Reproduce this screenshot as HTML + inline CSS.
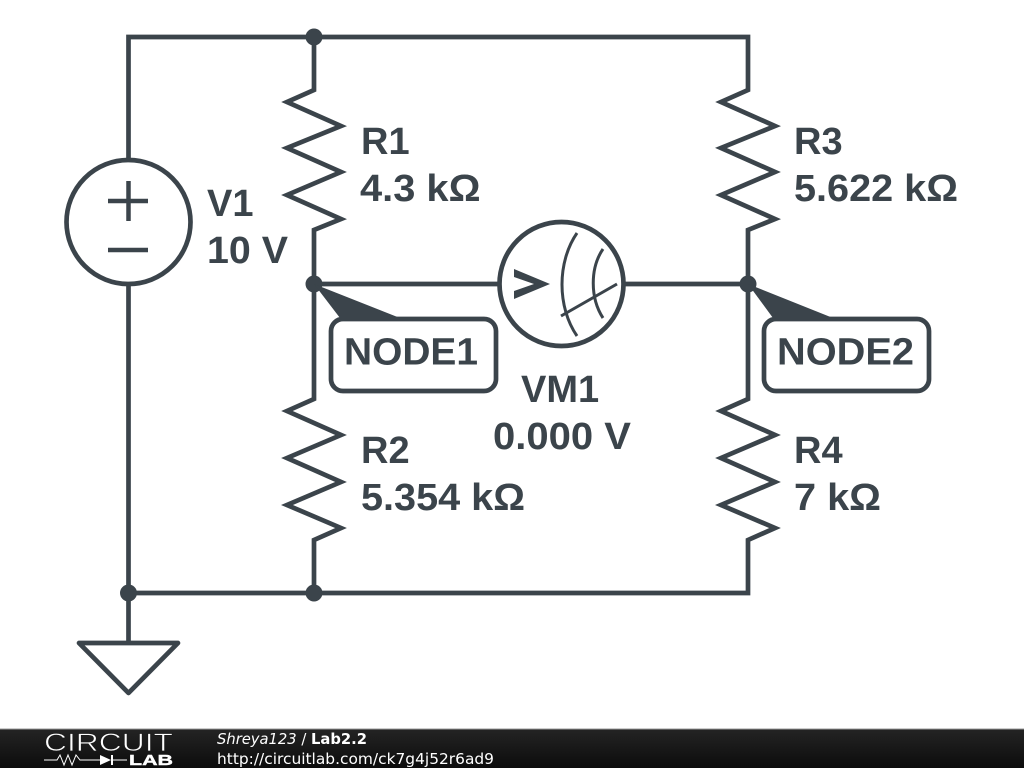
<!DOCTYPE html>
<html><head><meta charset="utf-8"><style>
html,body{margin:0;padding:0;background:#fff;width:1024px;height:768px;overflow:hidden}
svg{display:block}
.t{font-family:"Liberation Sans",sans-serif;font-weight:bold;font-size:38px;fill:#3b444b}
.f{font-family:"DejaVu Sans",sans-serif;font-size:15px;fill:#fff}
</style></head><body>
<svg width="1024" height="768" viewBox="0 0 1024 768" xmlns="http://www.w3.org/2000/svg">
<defs><linearGradient id="g" x1="0" y1="0" x2="0" y2="1"><stop offset="0" stop-color="#242424"/><stop offset="1" stop-color="#0c0c0c"/></linearGradient></defs>
<g fill="none" stroke="#3b444b" stroke-width="4.7" stroke-linejoin="miter">
<path d="M128.5 160V37H748V90L721 102 775 126 721 148 775 172 721 195 775 219 748 230V399L721 411 775 435 721 458 775 482 721 505 775 528 748 540V593H128.5V285"/>
<path d="M314 37V90L287 102 341 126 287 148 341 172 287 195 341 219 314 230V399L287 411 341 435 287 458 341 482 287 505 341 528 314 540V593"/>
<path d="M314 284H499M625 284H748"/>
<path d="M128.5 593V642"/>
<path d="M79 643H178L128.5 693Z" stroke-linejoin="round"/>
<circle cx="128.5" cy="222" r="62"/>
<circle cx="561.5" cy="284" r="62"/>
<rect x="331" y="319" width="165" height="72" rx="12"/>
<rect x="764" y="319" width="165" height="72" rx="12"/>
<path d="M128.5 181V221M108 201H148M108 250H148" stroke-width="4.5"/>
</g>
<g fill="none" stroke="#3b444b" stroke-width="3">
<path d="M577 233C557 262 557 307 577 336"/>
<path d="M603 249C590 268 590 298 603 318"/>
<path d="M561 316L617 284"/>
</g>
<path d="M514 269L550 284 514 299V291L534 284 514 277Z" fill="#3b444b"/>
<g fill="#3b444b">
<circle cx="314" cy="37" r="8.5"/><circle cx="314" cy="284" r="8.5"/><circle cx="748" cy="284" r="8.5"/><circle cx="128.5" cy="593" r="8.5"/><circle cx="314" cy="593" r="8.5"/>
<path d="M314 284L340 318H400Z"/><path d="M748 284L773 318H833Z"/>
</g>
<text class="t" x="361" y="154">R1</text>
<text class="t" x="360" y="201" textLength="120.5" lengthAdjust="spacingAndGlyphs">4.3 kΩ</text>
<text class="t" x="794" y="154">R3</text>
<text class="t" x="794" y="201" textLength="164" lengthAdjust="spacingAndGlyphs">5.622 kΩ</text>
<text class="t" x="361" y="463">R2</text>
<text class="t" x="361" y="510" textLength="164" lengthAdjust="spacingAndGlyphs">5.354 kΩ</text>
<text class="t" x="794" y="463">R4</text>
<text class="t" x="794" y="510" textLength="87" lengthAdjust="spacingAndGlyphs">7 kΩ</text>
<text class="t" x="207" y="216">V1</text>
<text class="t" x="207" y="263" textLength="81" lengthAdjust="spacingAndGlyphs">10 V</text>
<text class="t" x="521" y="402">VM1</text>
<text class="t" x="493" y="449" textLength="138" lengthAdjust="spacingAndGlyphs">0.000 V</text>
<text class="t" x="344" y="364.5" textLength="134" lengthAdjust="spacingAndGlyphs">NODE1</text>
<text class="t" x="777" y="364.5" textLength="137" lengthAdjust="spacingAndGlyphs">NODE2</text>
<rect x="0" y="729" width="1024" height="39" fill="url(#g)"/>
<rect x="0" y="728.5" width="1024" height="1" fill="#999"/>
<text x="44" y="751" font-family="Liberation Sans,sans-serif" font-size="25" fill="#fff" stroke="#1c1c1c" stroke-width=".7" textLength="129" lengthAdjust="spacingAndGlyphs">CIRCUIT</text>
<path d="M44 760H57L60 755 64 765 68 755 72 765 76 755 80 760H100M113 760H127" fill="none" stroke="#fff" stroke-width="1"/>
<path d="M100 755L111 760 100 765ZM111 755H113V765H111Z" fill="#fff"/>
<text x="129" y="765" font-family="Liberation Sans,sans-serif" font-weight="bold" font-size="15" fill="#fff" stroke="#fff" stroke-width=".4" textLength="44" lengthAdjust="spacingAndGlyphs">LAB</text>
<text class="f" x="217" y="744" textLength="150" lengthAdjust="spacingAndGlyphs"><tspan font-style="italic">Shreya123</tspan> / <tspan font-weight="bold">Lab2.2</tspan></text>
<text class="f" x="217" y="764" textLength="277" lengthAdjust="spacingAndGlyphs">http://circuitlab.com/ck7g4j52r6ad9</text>
</svg>
</body></html>
